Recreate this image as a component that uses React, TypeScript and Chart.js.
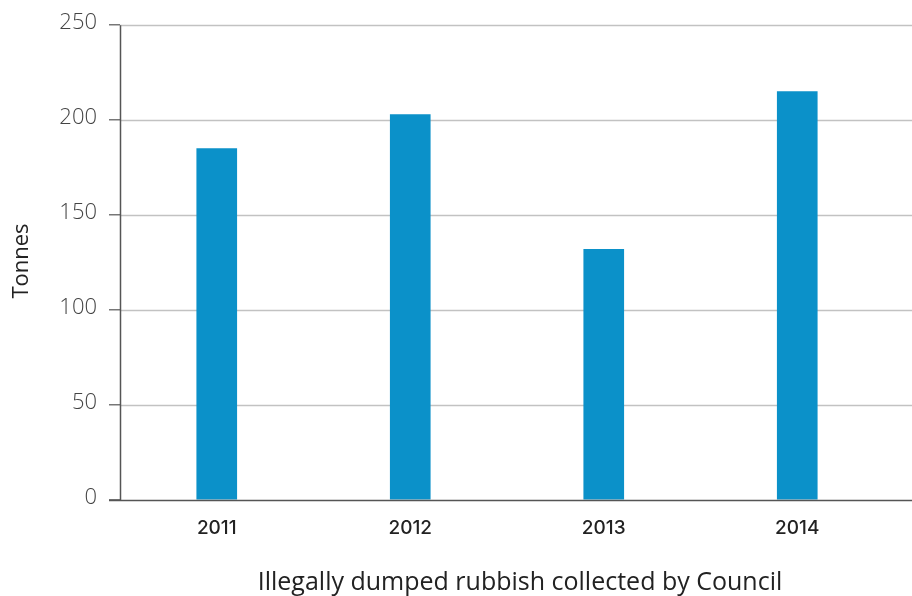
import React, { useEffect, useRef } from "react";
import { Chart, registerables } from "chart.js";

Chart.register(...registerables);

const years = ["2011", "2012", "2013", "2014"];
const tonnes = [185, 203, 132, 215];
const yTicks = [0, 50, 100, 150, 200, 250];
const xTitle = "Illegally dumped rubbish collected by Council";
const yTitle = "Tonnes";

const FONT = "'Open Sans', 'Noto Sans', sans-serif";
const XFONT = "Inter, 'Open Sans', sans-serif";

const extrasPlugin = {
  id: "extras",
  beforeDatasetsDraw(chart: any) {
    const { ctx, chartArea, scales } = chart;
    const y = scales.y;
    const W = chart.width;
    ctx.save();
    ctx.strokeStyle = "#c2c2c2";
    ctx.lineWidth = 1.5;
    yTicks.forEach((v) => {
      if (v === 0) return;
      const py = Math.round(y.getPixelForValue(v)) + 0.5;
      ctx.beginPath();
      ctx.moveTo(chartArea.left, py);
      ctx.lineTo(W, py);
      ctx.stroke();
    });
    ctx.restore();
  },
  afterDatasetsDraw(chart: any) {
    const { ctx, chartArea, scales } = chart;
    const y = scales.y;
    const W = chart.width;
    ctx.save();
    ctx.strokeStyle = "#555";
    ctx.lineWidth = 1.5;
    ctx.beginPath();
    ctx.moveTo(chartArea.left + 0.5, y.getPixelForValue(250));
    ctx.lineTo(chartArea.left + 0.5, y.getPixelForValue(0));
    ctx.stroke();
    const py0 = Math.round(y.getPixelForValue(0)) + 0.5;
    ctx.beginPath();
    ctx.moveTo(chartArea.left - 11, py0);
    ctx.lineTo(W, py0);
    ctx.stroke();
    ctx.fillStyle = "#222";
    ctx.font = `400 25px ${FONT}`;
    ctx.textAlign = "center";
    ctx.textBaseline = "alphabetic";
    ctx.fillText(xTitle, 520, 590);
    ctx.save();
    ctx.translate(28, 261);
    ctx.rotate(-Math.PI / 2);
    ctx.font = `400 22px ${FONT}`;
    ctx.fillText(yTitle, 0, 0);
    ctx.restore();
    ctx.restore();
  },
};

export default function App() {
  const ref = useRef<HTMLCanvasElement | null>(null);
  useEffect(() => {
    if (!ref.current) return;
    const chart = new Chart(ref.current, {
      type: "bar",
      data: {
        labels: years,
        datasets: [
          {
            data: tonnes,
            backgroundColor: "#0b91c9",
            barThickness: 40,
          },
        ],
      },
      options: {
        responsive: false,
        animation: false,
        layout: { padding: { top: 23, right: 18, left: 0, bottom: 0 } },
        plugins: { legend: { display: false }, tooltip: { enabled: false } },
        scales: {
          x: {
            grid: { display: false },
            border: { display: false },
            ticks: {
              color: "#222",
              font: { family: XFONT, size: 19, weight: "500" as any },
              padding: 9,
            },
            afterFit: (s: any) => {
              s.height = 96;
            },
          },
          y: {
            min: 0,
            max: 250,
            afterBuildTicks: (s: any) => {
              s.ticks = yTicks.map((v) => ({ value: v }));
            },
            grid: {
              display: true,
              drawOnChartArea: false,
              drawTicks: true,
              tickLength: 11,
              tickColor: "#777",
              lineWidth: 1.5,
            },
            border: { display: false },
            ticks: {
              color: "#444",
              font: { family: FONT, size: 22, weight: "300" as any },
              padding: 12,
              labelOffset: -2,
            },
            afterFit: (s: any) => {
              s.width = 120;
            },
          },
        },
      },
      plugins: [extrasPlugin],
    });
    return () => chart.destroy();
  }, []);
  return (
    <div style={{ position: "fixed", left: 0, top: 0, width: 912, height: 596, background: "#fff" }}>
      <canvas ref={ref} width={912} height={596} />
    </div>
  );
}
